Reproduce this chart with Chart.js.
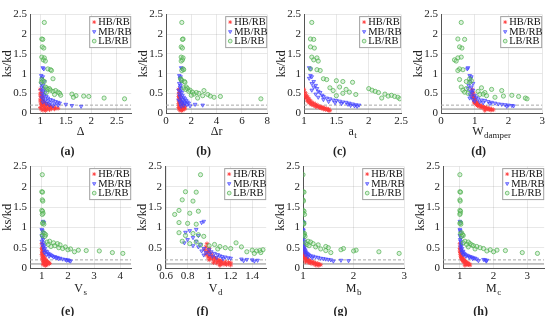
<!DOCTYPE html>
<html>
<head>
<meta charset="utf-8">
<script src="https://cdn.jsdelivr.net/npm/chart.js@4.4.1/dist/chart.umd.min.js"></script>
<style>
  body { margin: 0; background: #fff; width: 550px; height: 320px; position: relative; overflow: hidden; }
  canvas { position: absolute; }
</style>
</head>
<body>
<script>
const groupLabels = ["HB/RB", "MB/RB", "LB/RB"];
const yTicks = [0, 0.5, 1, 1.5, 2, 2.5];
const refLevels = [0.1, 0.2];

// ks/kd for each group (same samples in every panel)
const hbRatio = [0.60,0.52,0.48,0.45,0.42, 0.40,0.38,0.35,0.33,0.31, 0.29,0.27,0.26,0.25,0.24, 0.22,0.21,0.20,0.19,0.18, 0.17,0.16,0.15,0.15,0.14, 0.13,0.13,0.12,0.12,0.11, 0.10,0.10,0.09,0.08,0.07, 0.06];
const mbRatio = [1.15,1.12,0.95,0.92,0.88, 0.80,0.75,0.70,0.66,0.62, 0.58,0.55,0.52,0.48,0.45, 0.42,0.40,0.38,0.36,0.34, 0.33,0.32,0.30,0.29,0.28, 0.27,0.26,0.25,0.24,0.23, 0.22,0.21,0.20,0.19,0.18, 0.17];
const lbRatio = [2.30,1.88,1.87,1.68,1.65, 1.42,1.40,1.35,1.32,1.12, 1.10,1.08,0.87,0.85,0.82, 0.80,0.78,0.66,0.64,0.62, 0.60,0.58,0.57,0.55,0.53, 0.52,0.50,0.48,0.47,0.45, 0.44,0.43,0.42,0.40,0.38, 0.36];

// (a) Delta
const hbDelta = [1.00,1.02,1.00,1.03,1.01, 1.05,1.02,1.04,1.00,1.06, 1.03,1.08,1.01,1.10,1.05, 1.12,1.02,1.15,1.07,1.18, 1.04,1.20,1.10,1.25,1.00, 1.30,1.15,1.35,1.08,1.22, 1.02,1.28,1.12,1.18,1.05, 1.10];
const mbDelta = [1.05,1.07,1.02,1.05,1.03, 1.08,1.02,1.05,1.03,1.08, 1.02,1.06,1.10,1.04,1.08, 1.12,1.03,1.15,1.06,1.20, 1.10,1.25,1.15,1.30,1.05, 1.35,1.20,1.38,1.12,1.28, 1.50,1.18,1.35,1.62,1.25, 1.80];
const lbDelta = [1.08,1.03,1.05,1.04,1.07, 1.03,1.08,1.06,1.10,1.15, 1.20,1.22,1.25,1.03,1.05, 1.08,1.02,1.10,1.12,1.18, 1.15,1.20,1.30,1.25,1.35, 1.12,1.38,1.62,1.28,1.40, 1.70,1.85,1.95,1.65,2.25, 2.65];
// (b) Delta r
const hbDeltaR = [1.00,1.05,1.02,1.10,1.00, 1.08,1.05,1.12,1.00,1.15, 1.05,1.20,1.10,1.25,1.00, 1.30,1.15,1.35,1.05,1.40, 1.20,1.45,1.10,1.30,1.00, 1.50,1.25,1.40,1.15,1.35, 1.05,1.45,1.20,1.30,1.10, 1.25];
const mbDeltaR = [1.20,1.25,1.05,1.15,1.10, 1.20,1.05,1.15,1.10,1.20, 1.00,1.15,1.25,1.05,1.30, 1.10,1.40,1.20,1.50,1.30, 1.00,1.60,1.35,1.10,1.70, 1.45,1.25,1.80,1.50,1.15, 2.30,1.65,2.90,1.40,1.90, 1.20];
const lbDeltaR = [1.25,1.35,1.30,1.20,1.30, 1.20,1.35,1.30,1.20,1.35, 1.40,1.25,1.15,1.20,1.25, 1.45,1.50,1.60,1.40,1.70, 1.55,1.90,3.00,1.80,2.10, 2.40,2.60,2.20,3.30,2.00, 2.90,3.50,4.30,3.80,2.50, 7.50];
// (c) a_t
const hbAt = [1.00,1.02,1.00,1.04,1.02, 1.06,1.03,1.08,1.05,1.10, 1.06,1.12,1.08,1.15,1.10, 1.18,1.12,1.20,1.15,1.22, 1.18,1.25,1.20,1.28,1.24, 1.30,1.26,1.32,1.28,1.35, 1.30,1.38,1.33,1.36,1.38, 1.40];
const mbAt = [1.08,1.10,1.10,1.12,1.08, 1.15,1.12,1.18,1.15,1.20, 1.12,1.22,1.25,1.18,1.28, 1.30,1.22,1.35,1.40,1.30, 1.45,1.50,1.55,1.38,1.60, 1.65,1.48,1.70,1.58,1.75, 1.68,1.80,1.85,1.72,1.78, 1.82];
const lbAt = [1.12,1.10,1.15,1.10,1.16, 1.12,1.20,1.15,1.22,1.10, 1.20,1.25,1.30,1.35,1.50, 1.60,1.75,1.55,1.40,2.00, 1.65,2.05,1.45,2.10,1.70, 2.15,1.60,2.25,1.80,2.35, 1.50,2.30,2.40,2.45,2.20, 2.48];
// (d) W_damper
const hbWd = [0.92,0.95,0.93,0.97,0.95, 0.98,0.96,1.00,0.98,1.02, 1.00,1.05,0.98,1.08,1.02, 1.10,1.05,1.15,1.08,1.20, 1.12,1.25,1.18,1.30,1.22, 1.35,1.28,1.40,1.32,1.45, 1.38,1.50,1.42,1.55,1.48, 1.30];
const mbWd = [0.80,0.78,0.85,0.90,0.88, 0.85,0.95,0.82,0.90,0.80, 0.95,0.88,0.92,0.85,1.00, 0.90,1.05,0.85,1.10,0.95, 1.20,1.30,1.00,1.40,1.15, 1.50,1.25,1.60,1.45,1.70, 1.80,1.90,2.00,2.10,2.15, 1.95];
const lbWd = [0.60,0.50,0.70,0.55,0.62, 0.60,0.50,0.40,0.45,0.55, 0.65,0.50,0.85,0.55,0.90, 0.75,0.85,0.60,1.20,0.75, 1.50,0.65,1.80,1.10,0.70, 1.30,0.80,1.25,1.15,2.10, 1.35,1.85,2.30,1.60,2.50, 2.55];
// (e) V_s
const hbVs = [1.00,1.02,1.00,1.03,1.01, 1.04,1.02,1.05,1.00,1.06, 1.03,1.08,1.05,1.10,1.02, 1.12,1.07,1.15,1.04,1.18, 1.10,1.20,1.06,1.22,1.12, 1.25,1.08,1.28,1.15,1.30, 1.10,1.18,1.05,1.20,1.12, 1.15];
const mbVs = [1.05,1.08,1.00,1.02,1.05, 1.00,1.03,1.05,1.00,1.08, 1.02,1.10,1.05,1.12,1.08, 1.15,1.20,1.10,1.25,1.30, 1.18,1.35,1.40,1.28,1.50, 1.45,1.60,1.55,1.70,1.65, 1.80,1.90,2.00,1.95,2.05, 2.10];
const lbVs = [1.02,1.00,1.03,1.02,1.04, 1.00,1.03,1.05,1.02,1.05, 1.03,1.08,1.05,1.10,1.15, 1.02,1.12,1.30,1.20,1.45, 1.60,1.25,1.70,1.50,1.35, 1.90,1.65,1.80,2.10,2.00, 2.40,2.70,3.20,2.25,3.70, 4.10];
// (f) V_d
const hbVd = [0.98,0.97,1.00,0.96,0.99, 1.00,0.98,1.02,0.97,1.00, 1.03,0.99,1.05,1.01,1.06, 1.03,1.08,1.00,1.10,1.05, 1.12,1.08,1.15,1.10,1.18, 1.04,1.20,1.12,1.07,1.15, 1.10,1.18,1.13,1.16,1.20, 1.10];
const mbVd = [0.95,0.93,0.88,0.82,0.78, 0.90,0.85,0.80,0.88,0.77, 0.92,0.85,0.90,0.95,1.00, 0.93,1.02,0.97,1.05,1.00, 1.08,0.95,1.10,1.03,1.12, 1.15,1.07,1.18,1.20,1.13, 1.30,1.35,1.40,1.45,1.32, 1.42];
const lbVd = [0.92,0.78,0.88,0.75,0.85, 0.72,0.90,0.82,0.68,0.72, 0.80,0.88,0.72,0.85,0.90, 0.78,0.95,0.75,0.88,1.25, 0.82,1.05,0.92,1.00,1.10, 1.30,1.15,1.20,1.08,1.50, 1.40,1.47,1.44,1.35,1.48, 1.42];
// (g) M_b
const hbMb = [1.00,1.01,1.00,1.02,1.01, 1.00,1.03,1.02,1.04,1.01, 1.05,1.03,1.06,1.02,1.08, 1.04,1.10,1.06,1.12,1.08, 1.15,1.10,1.18,1.05,1.20, 1.12,1.22,1.25,1.15,1.28, 1.30,1.20,1.32,1.35,1.25, 1.30];
const mbMb = [1.00,1.02,1.00,1.01,1.00, 1.02,1.00,1.01,1.03,1.00, 1.02,1.01,1.03,1.02,1.04, 1.05,1.03,1.06,1.08,1.10, 1.05,1.12,1.15,1.20,1.10, 1.25,1.30,1.18,1.35,1.40, 1.45,1.50,1.55,1.75,1.90, 1.60];
const lbMb = [1.00,1.00,1.02,1.00,1.01, 1.00,1.02,1.00,1.03,1.00, 1.02,1.01,1.00,1.03,1.02, 1.01,1.04,1.10,1.15,1.05, 1.20,1.08,1.30,1.12,1.45, 1.25,1.50,1.80,1.35,1.75, 2.05,1.45,2.00,2.50,1.55, 2.90];
// (h) M_c
const hbMc = [1.00,1.01,1.00,1.02,1.00, 1.03,1.01,1.04,1.02,1.05, 1.03,1.06,1.04,1.08,1.05, 1.10,1.06,1.12,1.08,1.14, 1.10,1.16,1.12,1.18,1.14, 1.20,1.16,1.22,1.18,1.25, 1.20,1.28,1.22,1.25,1.30, 1.15];
const mbMc = [1.00,1.02,1.00,1.01,1.02, 1.00,1.03,1.01,1.02,1.04, 1.03,1.05,1.02,1.06,1.04, 1.08,1.10,1.06,1.12,1.15, 1.10,1.20,1.25,1.18,1.30, 1.35,1.28,1.40,1.45,1.38, 1.50,1.70,1.75,1.80,1.55, 1.78];
const lbMc = [1.00,1.00,1.02,1.00,1.01, 1.00,1.02,1.01,1.00,1.02, 1.00,1.03,1.05,1.02,1.08, 1.10,1.05,1.15,1.25,1.10, 1.30,1.20,1.35,1.40,1.50, 1.25,1.60,1.70,1.45,1.90, 2.10,2.35,1.80,2.00,2.85, 3.30];

const panelTags = ["a", "b", "c", "d", "e", "f", "g", "h"];
const xTitles = [["Δ", ""], ["Δr", ""], ["a", "t"], ["W", "damper"], ["V", "s"], ["V", "d"], ["M", "b"], ["M", "c"]];
const xTickSets = [[1, 1.5, 2, 2.5], [0, 2, 4, 6, 8], [1, 1.5, 2, 2.5], [0, 1, 2, 3], [1, 2, 3, 4], [0.6, 0.8, 1, 1.2, 1.4], [1, 2, 3], [1, 2, 3]];
const xRanges = [[0.8, 2.78], [0, 8], [1, 2.5], [0, 3], [0.55, 4.42], [0.59, 1.53], [1, 3], [0.5, 3.5]];
const panelX = [
  [hbDelta, mbDelta, lbDelta], [hbDeltaR, mbDeltaR, lbDeltaR], [hbAt, mbAt, lbAt], [hbWd, mbWd, lbWd],
  [hbVs, mbVs, lbVs], [hbVd, mbVd, lbVd], [hbMb, mbMb, lbMb], [hbMc, mbMc, lbMc],
];
const groupRatios = [hbRatio, mbRatio, lbRatio];

// layout: plot-area left/top per panel
const plotLefts = [30, 166, 304, 441, 30, 165, 303, 443];
const PLOT_W = 102;
const rows = [
  { top: 13, h: 100, titleGap: 19, tagGap: 39 },
  { top: 165, h: 103, titleGap: 21, tagGap: 44 },
];

const FONT = '"Liberation Serif", "Times New Roman", serif';
const groupStyles = [
  { pointStyle: "star", pointRadius: 2.2, pointBorderWidth: 0.8, pointRotation: 0, borderColor: "#ff3a3a", backgroundColor: "#ff3a3a" },
  { pointStyle: "triangle", pointRadius: 2.1, pointBorderWidth: 0.7, pointRotation: 180, borderColor: "#4040ff", backgroundColor: "rgba(90,90,255,0.45)" },
  { pointStyle: "circle", pointRadius: 2.1, pointBorderWidth: 0.7, pointRotation: 0, borderColor: "#4caf4c", backgroundColor: "rgba(140,210,140,0.3)" },
];

const boxLegend = {
  id: "boxLegend",
  afterDatasetsDraw(chart) {
    const { ctx, chartArea } = chart;
    const w = 42, h = 32;
    const x0 = chartArea.right - w, y0 = chartArea.top + 1.5;
    ctx.save();
    ctx.fillStyle = "#fff";
    ctx.fillRect(x0, y0, w, h);
    ctx.strokeStyle = "#a0a0a0";
    ctx.lineWidth = 1;
    ctx.strokeRect(x0 + 0.5, y0 + 0.5, w - 1, h - 1);
    ctx.font = "10.5px " + FONT;
    ctx.textBaseline = "middle";
    chart.data.datasets.filter(d => !d.isRef).forEach((d, i) => {
      const y = y0 + 6 + i * 9.5;
      ctx.strokeStyle = d.borderColor;
      ctx.fillStyle = d.backgroundColor;
      ctx.lineWidth = d.pointBorderWidth;
      Chart.helpers.drawPoint(ctx, {
        pointStyle: d.pointStyle, radius: 1.9, rotation: d.pointRotation, borderWidth: d.pointBorderWidth,
      }, x0 + 5, y);
      ctx.fillStyle = "#111";
      ctx.fillText(d.label, x0 + 9, y + 0.5);
    });
    ctx.restore();
  },
};

const axisCaption = {
  id: "axisCaption",
  afterDraw(chart, args, opts) {
    const { ctx, chartArea } = chart;
    const cx = (chartArea.left + chartArea.right) / 2;
    ctx.save();
    ctx.fillStyle = "#222";
    ctx.textBaseline = "middle";
    ctx.textAlign = "left";
    ctx.font = "12px " + FONT;
    const mw = ctx.measureText(opts.main).width;
    ctx.font = "9px " + FONT;
    const sw = opts.sub ? ctx.measureText(opts.sub).width + 0.5 : 0;
    const x = cx - (mw + sw) / 2;
    const y = chartArea.bottom + opts.titleGap;
    ctx.font = "12px " + FONT;
    ctx.fillText(opts.main, x, y);
    if (opts.sub) {
      ctx.font = "9px " + FONT;
      ctx.fillText(opts.sub, x + mw + 0.5, y + 4);
    }
    ctx.font = "bold 12px " + FONT;
    ctx.textAlign = "center";
    ctx.fillText("(" + opts.tag + ")", cx - 13, chartArea.bottom + opts.tagGap);
    ctx.restore();
  },
};

const fmt = v => String(+v.toFixed(2));

panelTags.forEach((tag, p) => {
  const row = rows[p < 4 ? 0 : 1];
  const [xmin, xmax] = xRanges[p];
  const canvas = document.createElement("canvas");
  const cw = 30 + PLOT_W + 4, chh = 8 + row.h + 48;
  canvas.width = cw;
  canvas.height = chh;
  canvas.style.left = (plotLefts[p] - 30) + "px";
  canvas.style.top = (row.top - 8) + "px";
  canvas.style.width = cw + "px";
  canvas.style.height = chh + "px";
  document.body.appendChild(canvas);

  const datasets = groupLabels.map((label, g) => ({
    label,
    data: panelX[p][g].map((x, i) => ({ x, y: groupRatios[g][i] })),
    ...groupStyles[g],
    order: 3 - g,
  }));
  refLevels.forEach((lvl, k) => {
    datasets.push({
      isRef: true,
      data: [{ x: xmin, y: lvl }, { x: xmax, y: lvl }],
      showLine: true,
      pointRadius: 0,
      borderColor: k === 0 ? "#8a8a8a" : "#a8a8a8",
      borderWidth: 1,
      borderDash: k === 0 ? [] : [3, 2],
      order: 10,
    });
  });

  new Chart(canvas, {
    type: "scatter",
    data: { datasets },
    options: {
      responsive: false,
      animation: false,
      devicePixelRatio: 1,
      layout: { padding: { top: 8, right: 4, left: 0, bottom: 0 } },
      plugins: {
        legend: { display: false },
        tooltip: { enabled: false },
        axisCaption: { main: xTitles[p][0], sub: xTitles[p][1], tag, titleGap: row.titleGap, tagGap: row.tagGap },
      },
      scales: {
        x: {
          type: "linear",
          min: xmin,
          max: xmax,
          afterBuildTicks: axis => { axis.ticks = xTickSets[p].map(value => ({ value })); },
          afterFit: axis => { axis.height = 48; },
          ticks: { autoSkip: false, maxRotation: 0, padding: 2, color: "#222", font: { family: FONT, size: 11 }, callback: fmt },
          grid: { color: "rgba(0,0,0,0.09)", drawTicks: false },
          border: { color: "#555" },
        },
        y: {
          min: 0,
          max: 2.5,
          afterBuildTicks: axis => { axis.ticks = yTicks.map(value => ({ value })); },
          afterFit: axis => { axis.width = 30; },
          ticks: { autoSkip: false, padding: 3, color: "#222", font: { family: FONT, size: 11 }, callback: fmt },
          grid: { color: "rgba(0,0,0,0.09)", drawTicks: false },
          border: { color: "#555" },
          title: { display: true, text: "ks/kd", color: "#222", padding: 0, font: { family: FONT, size: 12.5 } },
        },
      },
    },
    plugins: [boxLegend, axisCaption],
  });
});
</script>
</body>
</html>
